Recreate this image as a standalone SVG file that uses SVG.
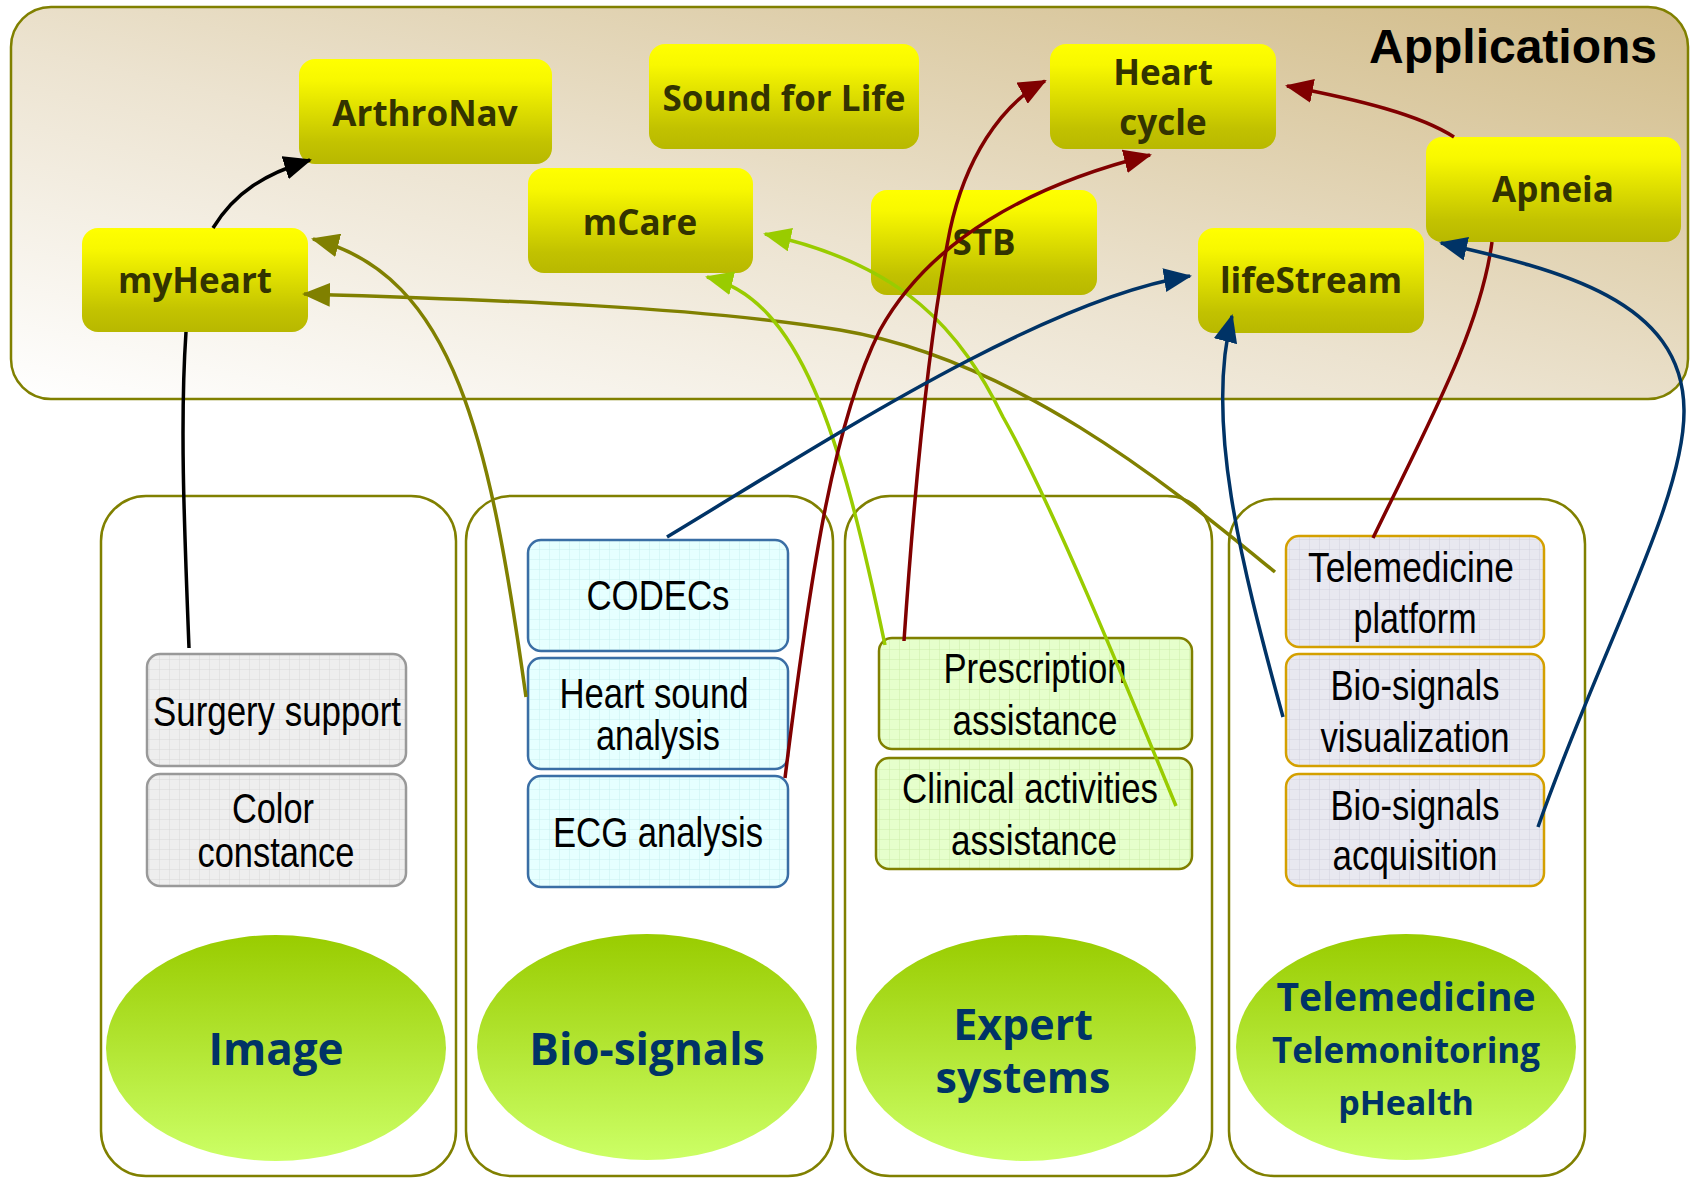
<svg xmlns="http://www.w3.org/2000/svg" width="1692" height="1178" viewBox="0 0 1692 1178">
<defs>
<style>
.app{stroke:none;fill:url(#gYel)}
.appt{font-family:"Open Sans","Noto Sans","Liberation Sans",sans-serif;font-weight:bold;font-size:35px;fill:#333300;text-anchor:middle}
.col{fill:#ffffff;stroke:#808000;stroke-width:2.5}
.ell{fill:url(#gGreen);stroke:none}
.ellt{font-family:"Open Sans","Noto Sans","Liberation Sans",sans-serif;font-weight:bold;fill:#003366;text-anchor:middle}
.bt{font-family:"Liberation Sans Narrow","Liberation Sans",Arial,sans-serif;font-size:42px;fill:#000;text-anchor:middle}
.bgrey{fill:url(#pGrey);stroke:#999999;stroke-width:2.5}
.bcyan{fill:url(#pCyan);stroke:#3a6ea5;stroke-width:2.5}
.bgreen{fill:url(#pGreen);stroke:#808000;stroke-width:2.5}
.blav{fill:url(#pLav);stroke:#d4a000;stroke-width:2.5}
.cn{fill:none;stroke-width:3.5}
</style>
<linearGradient id="gPanel" x1="0" y1="1" x2="1" y2="0">
<stop offset="0" stop-color="#ffffff"/>
<stop offset="0.45" stop-color="#ece3d0"/>
<stop offset="1" stop-color="#d1bb87"/>
</linearGradient>
<linearGradient id="gYel" x1="0" y1="0" x2="0" y2="1">
<stop offset="0" stop-color="#ffff00"/>
<stop offset="0.2" stop-color="#f8f800"/>
<stop offset="0.8" stop-color="#c2c200"/>
<stop offset="1" stop-color="#b8b800"/>
</linearGradient>
<linearGradient id="gGreen" x1="0" y1="0" x2="0" y2="1">
<stop offset="0" stop-color="#99cc00"/>
<stop offset="1" stop-color="#ccff66"/>
</linearGradient>
<pattern id="pGrey" width="10" height="10" patternUnits="userSpaceOnUse">
<rect width="10" height="10" fill="#eeeeee"/><path d="M10,0 V10 M0,10 H10" stroke="#d8d8d8" stroke-width="1"/>
</pattern>
<pattern id="pCyan" width="10" height="10" patternUnits="userSpaceOnUse">
<rect width="10" height="10" fill="#e6ffff"/><path d="M10,0 V10 M0,10 H10" stroke="#c8f0f0" stroke-width="1"/>
</pattern>
<pattern id="pGreen" width="10" height="10" patternUnits="userSpaceOnUse">
<rect width="10" height="10" fill="#e6ffcc"/><path d="M10,0 V10 M0,10 H10" stroke="#cceeaa" stroke-width="1"/>
</pattern>
<pattern id="pLav" width="10" height="10" patternUnits="userSpaceOnUse">
<rect width="10" height="10" fill="#e8e8f0"/><path d="M10,0 V10 M0,10 H10" stroke="#d2d2de" stroke-width="1"/>
</pattern>
<marker id="aBlack" markerUnits="userSpaceOnUse" viewBox="0 0 28 24" markerWidth="28" markerHeight="24" refX="26" refY="12" orient="auto"><path d="M0,0 L28,12 L0,24 z" fill="#000000"/></marker>
<marker id="aOlive" markerUnits="userSpaceOnUse" viewBox="0 0 28 24" markerWidth="28" markerHeight="24" refX="26" refY="12" orient="auto"><path d="M0,0 L28,12 L0,24 z" fill="#808000"/></marker>
<marker id="aLime" markerUnits="userSpaceOnUse" viewBox="0 0 28 24" markerWidth="28" markerHeight="24" refX="26" refY="12" orient="auto"><path d="M0,0 L28,12 L0,24 z" fill="#99cc00"/></marker>
<marker id="aRed" markerUnits="userSpaceOnUse" viewBox="0 0 28 24" markerWidth="28" markerHeight="24" refX="26" refY="12" orient="auto"><path d="M0,0 L28,12 L0,24 z" fill="#800000"/></marker>
<marker id="aBlue" markerUnits="userSpaceOnUse" viewBox="0 0 28 24" markerWidth="28" markerHeight="24" refX="26" refY="12" orient="auto"><path d="M0,0 L28,12 L0,24 z" fill="#003366"/></marker>
</defs>

<g id="applications">
<rect x="11" y="7" width="1677" height="392" rx="40" fill="url(#gPanel)" stroke="#808000" stroke-width="2.5"/>
<text x="1513" y="63" font-family="Liberation Sans, Arial, sans-serif" font-weight="bold" font-size="48" fill="#000" text-anchor="middle">Applications</text>
</g>

<g id="col-image"><rect class="col" x="101" y="496" width="355" height="680" rx="45"/></g>
<g id="col-biosignals"><rect class="col" x="466" y="496" width="367" height="680" rx="45"/></g>
<g id="col-expert"><rect class="col" x="845" y="496" width="367" height="680" rx="45"/></g>
<g id="col-telemedicine"><rect class="col" x="1229" y="499" width="356" height="677" rx="45"/></g>

<g id="ell-image"><ellipse class="ell" cx="276" cy="1048" rx="170" ry="113"/><text class="ellt" x="276" y="1065" font-size="44">Image</text></g>
<g id="ell-biosignals"><ellipse class="ell" cx="647" cy="1047" rx="170" ry="113"/><text class="ellt" x="647" y="1065" font-size="44">Bio-signals</text></g>
<g id="ell-expert"><ellipse class="ell" cx="1026" cy="1048" rx="170" ry="113"/><text class="ellt" x="1023" y="1040" font-size="43">Expert</text><text class="ellt" x="1023" y="1093" font-size="43">systems</text></g>
<g id="ell-telemedicine"><ellipse class="ell" cx="1406" cy="1047" rx="170" ry="113"/><text class="ellt" x="1406" y="1011" font-size="39">Telemedicine</text><text class="ellt" x="1406" y="1063" font-size="35">Telemonitoring</text><text class="ellt" x="1406" y="1115" font-size="34">pHealth</text></g>

<g id="surgery-support"><rect class="bgrey" x="147" y="654" width="259" height="112" rx="13"/><text class="bt" x="277" y="726" textLength="248" lengthAdjust="spacingAndGlyphs">Surgery support</text></g>
<g id="color-constance"><rect class="bgrey" x="147" y="774" width="259" height="112" rx="13"/><text class="bt" x="273" y="823" textLength="82" lengthAdjust="spacingAndGlyphs">Color</text><text class="bt" x="276" y="867" textLength="157" lengthAdjust="spacingAndGlyphs">constance</text></g>
<g id="codecs"><rect class="bcyan" x="528" y="540" width="260" height="111" rx="13"/><text class="bt" x="658" y="610" textLength="143" lengthAdjust="spacingAndGlyphs">CODECs</text></g>
<g id="heart-sound"><rect class="bcyan" x="528" y="658" width="260" height="111" rx="13"/><text class="bt" x="654" y="708" textLength="189" lengthAdjust="spacingAndGlyphs">Heart sound</text><text class="bt" x="658" y="750" textLength="124" lengthAdjust="spacingAndGlyphs">analysis</text></g>
<g id="ecg"><rect class="bcyan" x="528" y="776" width="260" height="111" rx="13"/><text class="bt" x="658" y="847" textLength="210" lengthAdjust="spacingAndGlyphs">ECG analysis</text></g>
<g id="prescription"><rect class="bgreen" x="879" y="638" width="313" height="111" rx="13"/><text class="bt" x="1035" y="683" textLength="183" lengthAdjust="spacingAndGlyphs">Prescription</text><text class="bt" x="1035" y="735" textLength="165" lengthAdjust="spacingAndGlyphs">assistance</text></g>
<g id="clinical"><rect class="bgreen" x="876" y="758" width="316" height="111" rx="13"/><text class="bt" x="1030" y="803" textLength="256" lengthAdjust="spacingAndGlyphs">Clinical activities</text><text class="bt" x="1034" y="855" textLength="166" lengthAdjust="spacingAndGlyphs">assistance</text></g>
<g id="tele-platform"><rect class="blav" x="1286" y="536" width="258" height="111" rx="13"/><text class="bt" x="1411" y="582" textLength="206" lengthAdjust="spacingAndGlyphs">Telemedicine</text><text class="bt" x="1415" y="633" textLength="123" lengthAdjust="spacingAndGlyphs">platform</text></g>
<g id="bio-visualization"><rect class="blav" x="1286" y="654" width="258" height="112" rx="13"/><text class="bt" x="1415" y="700" textLength="169" lengthAdjust="spacingAndGlyphs">Bio-signals</text><text class="bt" x="1415" y="752" textLength="189" lengthAdjust="spacingAndGlyphs">visualization</text></g>
<g id="bio-acquisition"><rect class="blav" x="1286" y="774" width="258" height="112" rx="13"/><text class="bt" x="1415" y="820" textLength="169" lengthAdjust="spacingAndGlyphs">Bio-signals</text><text class="bt" x="1415" y="870" textLength="165" lengthAdjust="spacingAndGlyphs">acquisition</text></g>

<g id="arthronav"><rect class="app" x="299" y="59" width="253" height="105" rx="16"/><text class="appt" x="425" y="126">ArthroNav</text></g>
<g id="sound-for-life"><rect class="app" x="649" y="44" width="270" height="105" rx="16"/><text class="appt" x="784" y="111">Sound for Life</text></g>
<g id="mcare"><rect class="app" x="528" y="168" width="225" height="105" rx="16"/><text class="appt" x="640" y="235">mCare</text></g>
<g id="myheart"><rect class="app" x="82" y="228" width="226" height="104" rx="16"/><text class="appt" x="195" y="293">myHeart</text></g>
<g id="heart-cycle"><rect class="app" x="1050" y="44" width="226" height="105" rx="16"/><text class="appt" x="1163" y="85">Heart</text><text class="appt" x="1163" y="135">cycle</text></g>
<g id="stb"><rect class="app" x="871" y="190" width="226" height="105" rx="16"/><text class="appt" x="984" y="255">STB</text></g>
<g id="lifestream"><rect class="app" x="1198" y="228" width="226" height="105" rx="16"/><text class="appt" x="1311" y="293">lifeStream</text></g>
<g id="apneia"><rect class="app" x="1426" y="137" width="255" height="105" rx="16"/><text class="appt" x="1553" y="202">Apneia</text></g>

<g id="connectors">
<path class="cn" stroke="#000000" stroke-width="4" d="M189,648 C184,520 180,420 186,332"/>
<path class="cn" stroke="#000000" stroke-width="4" marker-end="url(#aBlack)" d="M213,228 C235,192 265,174 310,160"/>
<path class="cn" stroke="#808000" marker-end="url(#aOlive)" d="M526,697 C490,440 455,275 313,239"/>
<path class="cn" stroke="#808000" marker-end="url(#aOlive)" d="M1275,572 C1180,495 1020,360 840,330 C700,307 500,300 304,294"/>
<path class="cn" stroke="#99cc00" marker-end="url(#aLime)" d="M885,645 C840,430 800,300 707,277"/>
<path class="cn" stroke="#99cc00" marker-end="url(#aLime)" d="M1176,806 C1120,670 1050,500 1003,417 C960,330 905,265 765,234"/>
<path class="cn" stroke="#800000" marker-end="url(#aRed)" d="M785,778 C812,560 835,420 880,330 C930,240 1030,185 1150,155"/>
<path class="cn" stroke="#800000" marker-end="url(#aRed)" d="M904,641 C915,480 930,330 950,230 C965,160 1000,105 1045,81"/>
<path class="cn" stroke="#800000" d="M1373,538 C1430,420 1480,330 1492,242"/>
<path class="cn" stroke="#800000" marker-end="url(#aRed)" d="M1454,137 C1420,115 1360,100 1287,86"/>
<path class="cn" stroke="#003366" stroke-width="4" marker-end="url(#aBlue)" d="M667,537 C820,445 1040,300 1190,276"/>
<path class="cn" stroke="#003366" stroke-width="4" marker-end="url(#aBlue)" d="M1283,717 C1240,560 1205,420 1232,316"/>
<path class="cn" stroke="#003366" stroke-width="4" marker-end="url(#aBlue)" d="M1538,827 C1600,650 1685,500 1684,410 C1683,300 1560,270 1441,243"/>
</g>
</svg>
